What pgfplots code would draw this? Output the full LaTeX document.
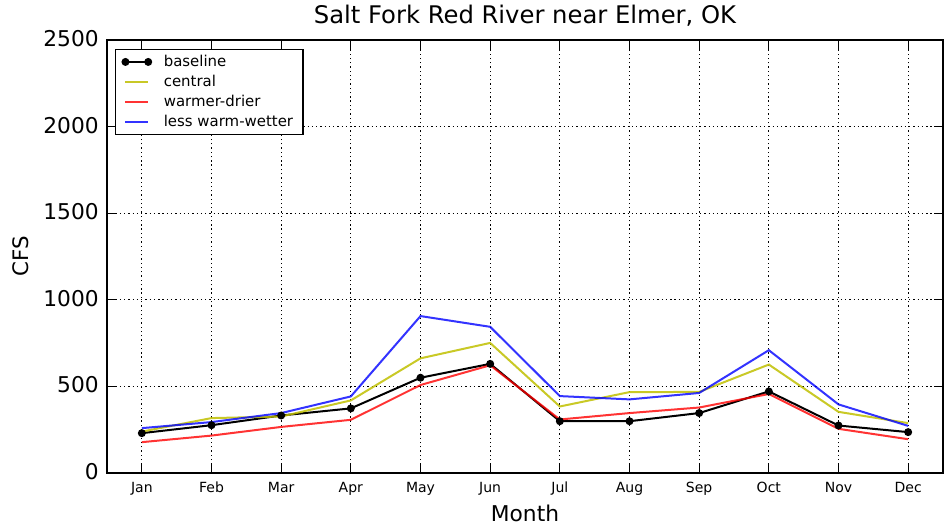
\documentclass[border=0pt]{standalone}
\usepackage{fontspec}
\setmainfont{DejaVu Sans}
\usepackage{pgfplots}
\pgfplotsset{compat=1.18}
\definecolor{myyellow}{rgb}{0.75,0.75,0}
\pgfplotsset{twomarks/.style={legend image code/.code={
  \draw[##1, mark=none] (0cm,0cm) -- (0.6cm,0cm);
  \draw[##1, only marks] plot coordinates {(0cm,0cm) (0.6cm,0cm)};}}}
\begin{document}
\begin{tikzpicture}
\begin{axis}[
  at={(0pt,0pt)}, anchor=south west,
  scale only axis,
  width=627pt, height=324.75pt,
  xmin=-0.5, xmax=11.5, ymin=0, ymax=2500,
  xtick={0,...,11},
  xticklabels={Jan,Feb,Mar,Apr,May,Jun,Jul,Aug,Sep,Oct,Nov,Dec},
  ytick={0,500,1000,1500,2000,2500},
  xticklabel style={font=\fontsize{10.5}{12}\selectfont, anchor=base, inner sep=0pt, yshift=-14.5pt},
  yticklabel style={font=\fontsize{16.3}{18}\selectfont, anchor=east, inner sep=0pt, xshift=-6pt, yshift=1pt},
  /pgf/number format/assume math mode=true,
  /pgf/number format/1000 sep={},
  tick align=inside,
  major tick length=6.5pt,
  tick style={black, line width=0.8pt},
  grid=major,
  major grid style={black, line width=0.6pt, dash pattern=on 1pt off 2.2pt},
  axis line style={line width=1pt},
  title={Salt Fork Red River near Elmer, OK},
  title style={font=\fontsize{18.2}{20}\selectfont, at={(axis description cs:0.5,1)}, anchor=base, inner sep=0pt, yshift=6.2pt},
  xlabel={Month}, ylabel={CFS},
  xlabel style={font=\fontsize{16.3}{18}\selectfont, at={(axis description cs:0.5,0)}, anchor=base, inner sep=0pt, yshift=-36.5pt},
  ylabel style={font=\fontsize{16}{18}\selectfont, at={(axis description cs:-0.1035,0.5)}, anchor=center, inner sep=0pt},
  legend style={at={(axis description cs:0,1)}, anchor=north west, xshift=6.2pt, yshift=-6.5pt,
    draw=black, line width=0.9pt,
    font=\fontsize{11.2}{13}\selectfont, row sep=0pt, inner xsep=5pt, inner ysep=2pt,
    nodes={inner sep=2.5pt},
    /tikz/every odd column/.append style={column sep=7pt}},
  legend cell align=left,
]
\addplot[black, line width=1.5pt, mark=*, mark size=2.2pt, twomarks] coordinates {
(0,230) (1,276) (2,332) (3,373) (4,550) (5,630) (6,299) (7,299) (8,346) (9,471) (10,274) (11,236)};
\addlegendentry{baseline}
\addplot[myyellow, line width=1.5pt, opacity=0.85] coordinates {
(0,239) (1,317) (2,326) (3,419) (4,662) (5,751) (6,384) (7,467) (8,468) (9,626) (10,353) (11,288)};
\addlegendentry{central}
\addplot[red, line width=1.5pt, opacity=0.8] coordinates {
(0,178) (1,216) (2,266) (3,307) (4,508) (5,622) (6,309) (7,346) (8,378) (9,456) (10,255) (11,195)};
\addlegendentry{warmer-drier}
\addplot[blue, line width=1.5pt, opacity=0.8] coordinates {
(0,259) (1,294) (2,346) (3,442) (4,906) (5,844) (6,444) (7,425) (8,462) (9,709) (10,396) (11,272)};
\addlegendentry{less warm-wetter}
\end{axis}
\pgfresetboundingbox
\useasboundingbox (-80.25pt,-40.5pt) rectangle (630pt,354.75pt);
\end{tikzpicture}
\end{document}
